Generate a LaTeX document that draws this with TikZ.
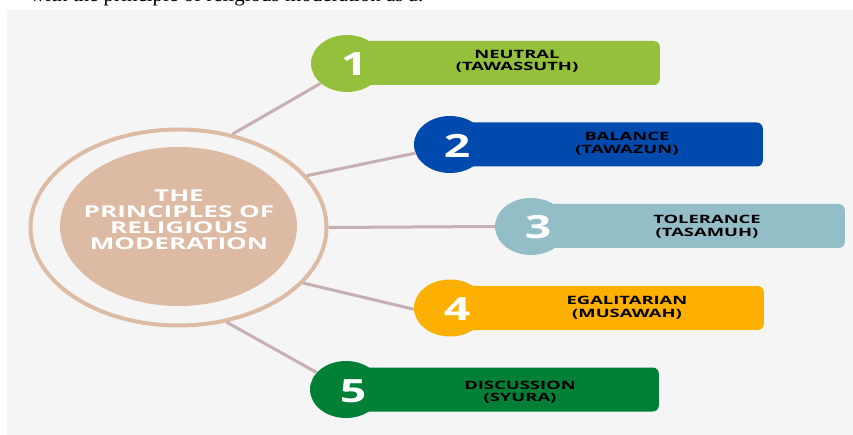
\documentclass[tikz,border=0pt]{standalone}
\usepackage{fontspec}
\setmainfont{Liberation Serif}
\newfontfamily\headfont[FakeStretch=1.6]{Open Sans}
\newfontfamily\digitfont[FakeStretch=1.45]{Open Sans}
\usetikzlibrary{shapes.geometric}

\definecolor{panel}{HTML}{F5F5F5}
\definecolor{ringc}{HTML}{DEBBA4}
\definecolor{corec}{HTML}{DDBAA4}
\definecolor{linkc}{HTML}{C6B0B3}
\definecolor{cOne}{HTML}{95C03B}
\definecolor{cTwo}{HTML}{004AAD}
\definecolor{cThree}{HTML}{93BEC7}
\definecolor{cFour}{HTML}{FDB000}
\definecolor{cFive}{HTML}{008037}

\tikzset{
  link/.style={draw=linkc, line width=3pt},
  bubble/.style={ellipse, fill=#1, minimum width=72pt, minimum height=57pt, inner sep=0pt},
  bar/.style={rectangle, rounded corners=6pt, fill=#1, minimum height=44pt, inner sep=0pt, anchor=east},
  digit/.style={text=white, font=\digitfont\bfseries\fontsize{32}{32}\selectfont},
  caption/.style={text=black, align=center, inner sep=0pt,
    font=\headfont\bfseries\fontsize{11.5}{12.5}\selectfont},
}

\begin{document}
\begin{tikzpicture}[x=1pt,y=-1pt]
\useasboundingbox (0,0) rectangle (853,435);
\fill[white] (0,0) rectangle (853,435);

% last line of the running text above the figure, cut by the page edge
\node[anchor=base west, inner sep=0pt, font=\fontsize{21}{21}\selectfont] (runtext) at (30,1.5)
  {with the principle of religious moderation as a.};

% figure panel
\fill[panel] (7,10) rectangle (853,435);

% central hub
\node[ellipse, draw=ringc, line width=4pt, minimum width=296pt, minimum height=196pt, inner sep=0pt] (ring) at (178.5,227.5) {};
\node[ellipse, fill=corec, minimum width=237pt, minimum height=159pt, inner sep=0pt] (core) at (178.5,226.5) {};
\node[text=white, align=center, inner sep=0pt, font=\headfont\bfseries\fontsize{16.3}{16}\selectfont] (title) at (179,220)
  {THE\\PRINCIPLES OF\\RELIGIOUS\\MODERATION};

% principle badges: bar, bubble, number, caption
\node[bar=cOne, minimum width=313pt]   (r1) at (660,63)    {};
\node[bubble=cOne]   (b1) at (347,63.5)  {};
\node[digit] (d1) at (354,64.5) {1};
\node[caption] (l1) at (517,61.5) {NEUTRAL\\(TAWASSUTH)};

\node[bar=cTwo, minimum width=313pt]   (r2) at (763,144.5) {};
\node[bubble=cTwo]   (b2) at (450,144.5) {};
\node[digit] (d2) at (457,145.5) {2};
\node[caption] (l2) at (627,143.5) {BALANCE\\(TAWAZUN)};

\node[bar=cThree, minimum width=314pt] (r3) at (845,226)   {};
\node[bubble=cThree] (b3) at (531,226.5) {};
\node[digit] (d3) at (538,227.5) {3};
\node[caption] (l3) at (707,226.5) {TOLERANCE\\(TASAMUH)};

\node[bar=cFour, minimum width=314pt]  (r4) at (764,308)   {};
\node[bubble=cFour]  (b4) at (450,308)   {};
\node[digit] (d4) at (457,309) {4};
\node[caption] (l4) at (627,307.5) {EGALITARIAN\\(MUSAWAH)};

\node[bar=cFive, minimum width=313pt]  (r5) at (659,389.5) {};
\node[bubble=cFive]  (b5) at (346,389.5) {};
\node[digit] (d5) at (353,391) {5};
\node[caption] (l5) at (520,392) {DISCUSSION\\(SYURA)};

% spokes from the hub to each badge
\draw[link] (ring.60)  -- (b1.217);
\draw[link] (ring.22)  -- (b2.194);
\draw[link] (ring.0)   -- (b3.180);
\draw[link] (ring.-24) -- (b4.182);
\draw[link] (ring.-63) -- (b5.150);
\end{tikzpicture}
\end{document}
